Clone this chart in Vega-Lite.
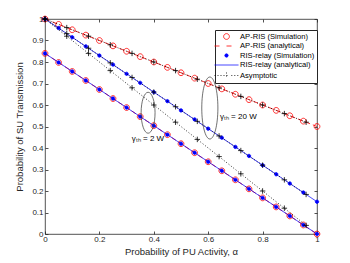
{
"$schema":"https://vega.github.io/schema/vega-lite/v6.json",
"width":272,"height":215,
"autosize":{"type":"none"},
"padding":{"left":45,"top":19,"right":33,"bottom":29},
"background":"#ffffff",
"config":{
 "view":{"stroke":"#262626","strokeWidth":0.8},
 "axis":{"domain":false,"grid":false,"tickColor":"#262626","tickSize":-3,"tickWidth":0.8,"labelFont":"Liberation Sans","labelFontSize":8,"labelColor":"#262626","titleFont":"Liberation Sans","titleFontSize":9.5,"titleFontWeight":"normal","titleColor":"#262626","labelFlush":false,"labelOverlap":false},
 "text":{"font":"Liberation Sans"}
},
"datasets":{
 "sim":[
 {"a":0,"p":1,"s":"AP-RIS (Simulation)","g":"20W"},{"a":0.05,"p":0.975,"s":"AP-RIS (Simulation)","g":"20W"},{"a":0.1,"p":0.95,"s":"AP-RIS (Simulation)","g":"20W"},{"a":0.15,"p":0.925,"s":"AP-RIS (Simulation)","g":"20W"},{"a":0.2,"p":0.9,"s":"AP-RIS (Simulation)","g":"20W"},{"a":0.25,"p":0.875,"s":"AP-RIS (Simulation)","g":"20W"},{"a":0.3,"p":0.85,"s":"AP-RIS (Simulation)","g":"20W"},{"a":0.35,"p":0.825,"s":"AP-RIS (Simulation)","g":"20W"},{"a":0.4,"p":0.8,"s":"AP-RIS (Simulation)","g":"20W"},{"a":0.45,"p":0.775,"s":"AP-RIS (Simulation)","g":"20W"},{"a":0.5,"p":0.75,"s":"AP-RIS (Simulation)","g":"20W"},{"a":0.55,"p":0.725,"s":"AP-RIS (Simulation)","g":"20W"},{"a":0.6,"p":0.7,"s":"AP-RIS (Simulation)","g":"20W"},{"a":0.65,"p":0.675,"s":"AP-RIS (Simulation)","g":"20W"},{"a":0.7,"p":0.65,"s":"AP-RIS (Simulation)","g":"20W"},{"a":0.75,"p":0.625,"s":"AP-RIS (Simulation)","g":"20W"},{"a":0.8,"p":0.6,"s":"AP-RIS (Simulation)","g":"20W"},{"a":0.85,"p":0.575,"s":"AP-RIS (Simulation)","g":"20W"},{"a":0.9,"p":0.55,"s":"AP-RIS (Simulation)","g":"20W"},{"a":0.95,"p":0.525,"s":"AP-RIS (Simulation)","g":"20W"},{"a":1,"p":0.5,"s":"AP-RIS (Simulation)","g":"20W"},
 {"a":0,"p":0.84,"s":"AP-RIS (Simulation)","g":"2W"},{"a":0.05,"p":0.798,"s":"AP-RIS (Simulation)","g":"2W"},{"a":0.1,"p":0.756,"s":"AP-RIS (Simulation)","g":"2W"},{"a":0.15,"p":0.714,"s":"AP-RIS (Simulation)","g":"2W"},{"a":0.2,"p":0.672,"s":"AP-RIS (Simulation)","g":"2W"},{"a":0.25,"p":0.63,"s":"AP-RIS (Simulation)","g":"2W"},{"a":0.3,"p":0.588,"s":"AP-RIS (Simulation)","g":"2W"},{"a":0.35,"p":0.546,"s":"AP-RIS (Simulation)","g":"2W"},{"a":0.4,"p":0.504,"s":"AP-RIS (Simulation)","g":"2W"},{"a":0.45,"p":0.462,"s":"AP-RIS (Simulation)","g":"2W"},{"a":0.5,"p":0.42,"s":"AP-RIS (Simulation)","g":"2W"},{"a":0.55,"p":0.378,"s":"AP-RIS (Simulation)","g":"2W"},{"a":0.6,"p":0.336,"s":"AP-RIS (Simulation)","g":"2W"},{"a":0.65,"p":0.294,"s":"AP-RIS (Simulation)","g":"2W"},{"a":0.7,"p":0.252,"s":"AP-RIS (Simulation)","g":"2W"},{"a":0.75,"p":0.21,"s":"AP-RIS (Simulation)","g":"2W"},{"a":0.8,"p":0.168,"s":"AP-RIS (Simulation)","g":"2W"},{"a":0.85,"p":0.126,"s":"AP-RIS (Simulation)","g":"2W"},{"a":0.9,"p":0.084,"s":"AP-RIS (Simulation)","g":"2W"},{"a":0.95,"p":0.042,"s":"AP-RIS (Simulation)","g":"2W"},{"a":1,"p":0,"s":"AP-RIS (Simulation)","g":"2W"},
 {"a":0,"p":1,"s":"RIS-relay (Simulation)","g":"20W"},{"a":0.05,"p":0.958,"s":"RIS-relay (Simulation)","g":"20W"},{"a":0.1,"p":0.915,"s":"RIS-relay (Simulation)","g":"20W"},{"a":0.15,"p":0.873,"s":"RIS-relay (Simulation)","g":"20W"},{"a":0.2,"p":0.83,"s":"RIS-relay (Simulation)","g":"20W"},{"a":0.25,"p":0.788,"s":"RIS-relay (Simulation)","g":"20W"},{"a":0.3,"p":0.745,"s":"RIS-relay (Simulation)","g":"20W"},{"a":0.35,"p":0.703,"s":"RIS-relay (Simulation)","g":"20W"},{"a":0.4,"p":0.66,"s":"RIS-relay (Simulation)","g":"20W"},{"a":0.45,"p":0.618,"s":"RIS-relay (Simulation)","g":"20W"},{"a":0.5,"p":0.575,"s":"RIS-relay (Simulation)","g":"20W"},{"a":0.55,"p":0.533,"s":"RIS-relay (Simulation)","g":"20W"},{"a":0.6,"p":0.49,"s":"RIS-relay (Simulation)","g":"20W"},{"a":0.65,"p":0.448,"s":"RIS-relay (Simulation)","g":"20W"},{"a":0.7,"p":0.405,"s":"RIS-relay (Simulation)","g":"20W"},{"a":0.75,"p":0.363,"s":"RIS-relay (Simulation)","g":"20W"},{"a":0.8,"p":0.32,"s":"RIS-relay (Simulation)","g":"20W"},{"a":0.85,"p":0.278,"s":"RIS-relay (Simulation)","g":"20W"},{"a":0.9,"p":0.235,"s":"RIS-relay (Simulation)","g":"20W"},{"a":0.95,"p":0.193,"s":"RIS-relay (Simulation)","g":"20W"},{"a":1,"p":0.15,"s":"RIS-relay (Simulation)","g":"20W"},
 {"a":0,"p":0.84,"s":"RIS-relay (Simulation)","g":"2W"},{"a":0.05,"p":0.798,"s":"RIS-relay (Simulation)","g":"2W"},{"a":0.1,"p":0.756,"s":"RIS-relay (Simulation)","g":"2W"},{"a":0.15,"p":0.714,"s":"RIS-relay (Simulation)","g":"2W"},{"a":0.2,"p":0.672,"s":"RIS-relay (Simulation)","g":"2W"},{"a":0.25,"p":0.63,"s":"RIS-relay (Simulation)","g":"2W"},{"a":0.3,"p":0.588,"s":"RIS-relay (Simulation)","g":"2W"},{"a":0.35,"p":0.546,"s":"RIS-relay (Simulation)","g":"2W"},{"a":0.4,"p":0.504,"s":"RIS-relay (Simulation)","g":"2W"},{"a":0.45,"p":0.462,"s":"RIS-relay (Simulation)","g":"2W"},{"a":0.5,"p":0.42,"s":"RIS-relay (Simulation)","g":"2W"},{"a":0.55,"p":0.378,"s":"RIS-relay (Simulation)","g":"2W"},{"a":0.6,"p":0.336,"s":"RIS-relay (Simulation)","g":"2W"},{"a":0.65,"p":0.294,"s":"RIS-relay (Simulation)","g":"2W"},{"a":0.7,"p":0.252,"s":"RIS-relay (Simulation)","g":"2W"},{"a":0.75,"p":0.21,"s":"RIS-relay (Simulation)","g":"2W"},{"a":0.8,"p":0.168,"s":"RIS-relay (Simulation)","g":"2W"},{"a":0.85,"p":0.126,"s":"RIS-relay (Simulation)","g":"2W"},{"a":0.9,"p":0.084,"s":"RIS-relay (Simulation)","g":"2W"},{"a":0.95,"p":0.042,"s":"RIS-relay (Simulation)","g":"2W"},{"a":1,"p":0,"s":"RIS-relay (Simulation)","g":"2W"}
 ],
 "ana":[
 {"a":0,"p":1,"s":"AP-RIS (analytical)","g":"20W"},{"a":1,"p":0.5,"s":"AP-RIS (analytical)","g":"20W"},
 {"a":0,"p":0.84,"s":"AP-RIS (analytical)","g":"2W"},{"a":1,"p":0,"s":"AP-RIS (analytical)","g":"2W"},
 {"a":0,"p":1,"s":"RIS-relay (analytical)","g":"20W"},{"a":1,"p":0.15,"s":"RIS-relay (analytical)","g":"20W"},
 {"a":0,"p":0.84,"s":"RIS-relay (analytical)","g":"2W"},{"a":1,"p":0,"s":"RIS-relay (analytical)","g":"2W"}
 ],
 "asy":[
 {"a":0,"p":1,"s":"Asymptotic","g":"ap"},{"a":0.08,"p":0.96,"s":"Asymptotic","g":"ap"},{"a":0.16,"p":0.92,"s":"Asymptotic","g":"ap"},{"a":0.24,"p":0.88,"s":"Asymptotic","g":"ap"},{"a":0.32,"p":0.84,"s":"Asymptotic","g":"ap"},{"a":0.4,"p":0.8,"s":"Asymptotic","g":"ap"},{"a":0.48,"p":0.76,"s":"Asymptotic","g":"ap"},{"a":0.56,"p":0.72,"s":"Asymptotic","g":"ap"},{"a":0.64,"p":0.68,"s":"Asymptotic","g":"ap"},{"a":0.72,"p":0.64,"s":"Asymptotic","g":"ap"},{"a":0.8,"p":0.6,"s":"Asymptotic","g":"ap"},{"a":0.88,"p":0.56,"s":"Asymptotic","g":"ap"},{"a":0.96,"p":0.52,"s":"Asymptotic","g":"ap"},
 {"a":0,"p":1,"s":"Asymptotic","g":"rr"},{"a":0.08,"p":0.932,"s":"Asymptotic","g":"rr"},{"a":0.16,"p":0.864,"s":"Asymptotic","g":"rr"},{"a":0.24,"p":0.796,"s":"Asymptotic","g":"rr"},{"a":0.32,"p":0.728,"s":"Asymptotic","g":"rr"},{"a":0.4,"p":0.66,"s":"Asymptotic","g":"rr"},{"a":0.48,"p":0.592,"s":"Asymptotic","g":"rr"},{"a":0.56,"p":0.524,"s":"Asymptotic","g":"rr"},{"a":0.64,"p":0.456,"s":"Asymptotic","g":"rr"},{"a":0.72,"p":0.388,"s":"Asymptotic","g":"rr"},{"a":0.8,"p":0.32,"s":"Asymptotic","g":"rr"},{"a":0.88,"p":0.252,"s":"Asymptotic","g":"rr"},{"a":0.96,"p":0.184,"s":"Asymptotic","g":"rr"},
 {"a":0,"p":1,"s":"Asymptotic","g":"lo"},{"a":0.08,"p":0.92,"s":"Asymptotic","g":"lo"},{"a":0.16,"p":0.84,"s":"Asymptotic","g":"lo"},{"a":0.24,"p":0.76,"s":"Asymptotic","g":"lo"},{"a":0.32,"p":0.68,"s":"Asymptotic","g":"lo"},{"a":0.4,"p":0.6,"s":"Asymptotic","g":"lo"},{"a":0.48,"p":0.52,"s":"Asymptotic","g":"lo"},{"a":0.56,"p":0.44,"s":"Asymptotic","g":"lo"},{"a":0.64,"p":0.36,"s":"Asymptotic","g":"lo"},{"a":0.72,"p":0.28,"s":"Asymptotic","g":"lo"},{"a":0.8,"p":0.2,"s":"Asymptotic","g":"lo"},{"a":0.88,"p":0.12,"s":"Asymptotic","g":"lo"},{"a":0.96,"p":0.04,"s":"Asymptotic","g":"lo"}
 ],
 "ell":[{"a":0.379,"p":0.564,"k":"2W"},{"a":0.606,"p":0.586,"k":"20W"}],
 "lab":[{"a":0.319,"p":0.44,"t":"γₜₕ = 2 W"},{"a":0.643,"p":0.546,"t":"γₜₕ = 20 W"}]
},
"resolve":{"axis":{"x":"independent","y":"independent"}},
"layer":[
 {"data":{"name":"sim"},"transform":[{"filter":"datum.s==='AP-RIS (Simulation)'"}],
  "mark":{"type":"point","size":64,"strokeWidth":0.8,"opacity":1},
  "encoding":{
   "x":{"field":"a","type":"quantitative","scale":{"domain":[0,1],"nice":false},"axis":{"orient":"bottom","values":[0,0.2,0.4,0.6,0.8,1],"format":".1~f","title":"Probability of PU Activity,  α","labelPadding":4,"titlePadding":3}},
   "y":{"field":"p","type":"quantitative","scale":{"domain":[0,1],"nice":false},"axis":{"orient":"left","values":[0,0.1,0.2,0.3,0.4,0.5,0.6,0.7,0.8,0.9,1],"format":".1~f","title":"Probability of SU Transmission","labelPadding":5,"titlePadding":7}},
   "shape":{"field":"s","type":"nominal","scale":{"domain":["AP-RIS (Simulation)","AP-RIS (analytical)","RIS-relay (Simulation)","RIS-relay (analytical)","Asymptotic"],"range":["M-0.72,0A0.72,0.72,0,1,1,0.72,0A0.72,0.72,0,1,1,-0.72,0Z","M-3,0H-1.2M0,0H2","M-0.42,0A0.42,0.42,0,1,1,0.42,0A0.42,0.42,0,1,1,-0.42,0Z","M-3,0H3","M-3,0H-2.7M-2.25,0H-1.95M-1.5,0H-1.2M-0.75,0H0.75M1.2,0H1.5M1.95,0H2.25M2.7,0H3M0,-0.75V0.75"]},
     "legend":{"title":null,"orient":"none","legendX":170,"legendY":11,"symbolSize":64,"symbolStrokeWidth":0.8,"symbolOpacity":1,"labelFont":"Liberation Sans","labelFontSize":7.6,"labelColor":"#000000","padding":2,"rowPadding":0.5,"strokeColor":"#262626","fillColor":"#ffffff","labelOffset":9,"symbolOffset":5,"labelLimit":200}},
   "stroke":{"field":"s","type":"nominal","scale":{"domain":["AP-RIS (Simulation)","AP-RIS (analytical)","RIS-relay (Simulation)","RIS-relay (analytical)","Asymptotic"],"range":["#ff0000","#ff0000","#0000ff","#0000ff","#000000"]},
     "legend":{"title":null,"orient":"none","legendX":170,"legendY":11,"symbolSize":64,"symbolStrokeWidth":0.8,"symbolOpacity":1,"labelFont":"Liberation Sans","labelFontSize":7.6,"labelColor":"#000000","padding":2,"rowPadding":0.5,"strokeColor":"#262626","fillColor":"#ffffff","labelOffset":9,"symbolOffset":5,"labelLimit":200}},
   "fill":{"field":"s","type":"nominal","scale":{"domain":["AP-RIS (Simulation)","AP-RIS (analytical)","RIS-relay (Simulation)","RIS-relay (analytical)","Asymptotic"],"range":["transparent","transparent","#0000ff","transparent","transparent"]},
     "legend":{"title":null,"orient":"none","legendX":170,"legendY":11,"symbolSize":64,"symbolStrokeWidth":0.8,"symbolOpacity":1,"labelFont":"Liberation Sans","labelFontSize":7.6,"labelColor":"#000000","padding":2,"rowPadding":0.5,"strokeColor":"#262626","fillColor":"#ffffff","labelOffset":9,"symbolOffset":5,"labelLimit":200}}
  }},
 {"data":{"name":"ana"},"transform":[{"filter":"datum.s==='AP-RIS (analytical)'"}],
  "mark":{"type":"line","strokeWidth":0.8},
  "encoding":{
   "x":{"field":"a","type":"quantitative","axis":null},
   "y":{"field":"p","type":"quantitative","axis":null},
   "detail":{"field":"g"},
   "stroke":{"field":"s","type":"nominal","legend":null},
   "strokeDash":{"field":"s","type":"nominal","scale":{"domain":["AP-RIS (Simulation)","AP-RIS (analytical)","RIS-relay (Simulation)","RIS-relay (analytical)","Asymptotic"],"range":[[1,0],[5,3],[1,0],[1,0],[1,2]]},"legend":null}
  }},
 {"data":{"name":"sim"},"transform":[{"filter":"datum.s==='RIS-relay (Simulation)'"}],
  "mark":{"type":"point","size":64,"strokeWidth":0.8,"opacity":1},
  "encoding":{
   "x":{"field":"a","type":"quantitative","axis":{"orient":"top","values":[0,0.2,0.4,0.6,0.8,1],"labels":false,"title":null}},
   "y":{"field":"p","type":"quantitative","axis":{"orient":"right","values":[0,0.1,0.2,0.3,0.4,0.5,0.6,0.7,0.8,0.9,1],"labels":false,"title":null}},
   "shape":{"field":"s","type":"nominal","legend":{"title":null,"orient":"none","legendX":170,"legendY":11,"symbolSize":64,"symbolStrokeWidth":0.8,"symbolOpacity":1,"labelFont":"Liberation Sans","labelFontSize":7.6,"labelColor":"#000000","padding":2,"rowPadding":0.5,"strokeColor":"#262626","fillColor":"#ffffff","labelOffset":9,"symbolOffset":5,"labelLimit":200}},
   "stroke":{"field":"s","type":"nominal","legend":{"title":null,"orient":"none","legendX":170,"legendY":11,"symbolSize":64,"symbolStrokeWidth":0.8,"symbolOpacity":1,"labelFont":"Liberation Sans","labelFontSize":7.6,"labelColor":"#000000","padding":2,"rowPadding":0.5,"strokeColor":"#262626","fillColor":"#ffffff","labelOffset":9,"symbolOffset":5,"labelLimit":200}},
   "fill":{"field":"s","type":"nominal","legend":{"title":null,"orient":"none","legendX":170,"legendY":11,"symbolSize":64,"symbolStrokeWidth":0.8,"symbolOpacity":1,"labelFont":"Liberation Sans","labelFontSize":7.6,"labelColor":"#000000","padding":2,"rowPadding":0.5,"strokeColor":"#262626","fillColor":"#ffffff","labelOffset":9,"symbolOffset":5,"labelLimit":200}}
  }},
 {"data":{"name":"ana"},"transform":[{"filter":"datum.s==='RIS-relay (analytical)'"}],
  "mark":{"type":"line","strokeWidth":0.8},
  "encoding":{
   "x":{"field":"a","type":"quantitative","axis":null},
   "y":{"field":"p","type":"quantitative","axis":null},
   "detail":{"field":"g"},
   "stroke":{"field":"s","type":"nominal","legend":null},
   "strokeDash":{"field":"s","type":"nominal","legend":null}
  }},
 {"data":{"name":"asy"},
  "mark":{"type":"line","strokeWidth":0.8},
  "encoding":{
   "x":{"field":"a","type":"quantitative","axis":null},
   "y":{"field":"p","type":"quantitative","axis":null},
   "detail":{"field":"g"},
   "stroke":{"field":"s","type":"nominal","legend":null},
   "strokeDash":{"field":"s","type":"nominal","legend":null}
  }},
 {"data":{"name":"asy"},
  "mark":{"type":"point","shape":"M0,-1V1M-1,0H1","size":30,"stroke":"#000000","strokeWidth":0.8,"opacity":1,"filled":false},
  "encoding":{
   "x":{"field":"a","type":"quantitative","axis":null},
   "y":{"field":"p","type":"quantitative","axis":null}
  }},
 {"data":{"name":"ell"},"transform":[{"filter":"datum.k==='2W'"}],
  "mark":{"type":"point","shape":"M0,-1A0.34,1,0,1,1,0,1A0.34,1,0,1,1,0,-1Z","size":1681,"stroke":"#333333","strokeWidth":0.7,"opacity":1,"filled":false},
  "encoding":{
   "x":{"field":"a","type":"quantitative","axis":null},
   "y":{"field":"p","type":"quantitative","axis":null}
  }},
 {"data":{"name":"ell"},"transform":[{"filter":"datum.k==='20W'"}],
  "mark":{"type":"point","shape":"M0,-1A0.26,1,0,1,1,0,1A0.26,1,0,1,1,0,-1Z","size":3844,"stroke":"#333333","strokeWidth":0.7,"opacity":1,"filled":false},
  "encoding":{
   "x":{"field":"a","type":"quantitative","axis":null},
   "y":{"field":"p","type":"quantitative","axis":null}
  }},
 {"data":{"name":"lab"},
  "mark":{"type":"text","align":"left","baseline":"middle","fontSize":8,"color":"#000000"},
  "encoding":{
   "x":{"field":"a","type":"quantitative","axis":null},
   "y":{"field":"p","type":"quantitative","axis":null},
   "text":{"field":"t"}
  }}
]
}
